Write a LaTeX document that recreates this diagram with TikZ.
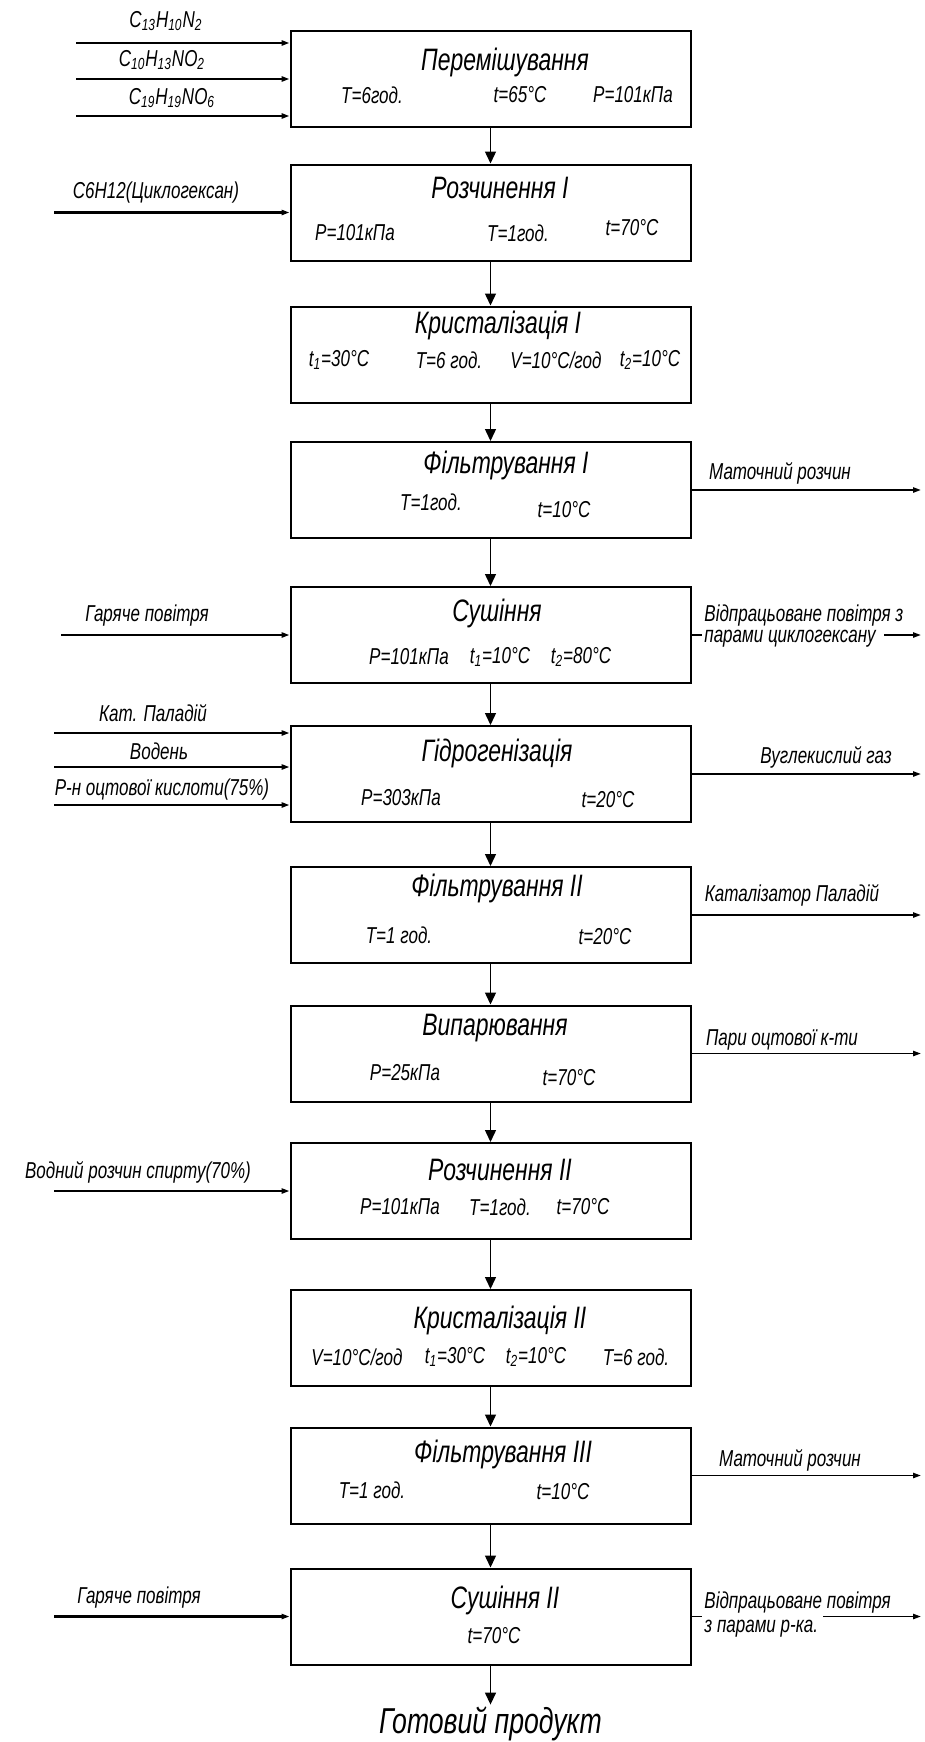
\documentclass[tikz,border=0pt]{standalone}
\usepackage{fontspec}
\setmainfont{Liberation Sans}[FakeStretch=0.74]
\usepackage{tikz}
\usetikzlibrary{arrows.meta}

\begin{document}
\begin{tikzpicture}[
  x=0.5pt, y=-0.5pt,
  pbox/.style={draw,line width=1pt,minimum width=200pt,minimum height=48pt,inner sep=0pt},
  ptitle/.style={font=\itshape\fontsize{15.5}{18}\selectfont,inner sep=1pt},
  ppar/.style={font=\itshape\fontsize{11.5}{13}\selectfont,inner sep=1pt},
  flab/.style={font=\itshape\fontsize{11.5}{13}\selectfont,inner sep=1pt},
  edg/.style={-{Triangle[length=6pt,width=5.5pt]},line width=0.7pt},
  feed/.style={-{Triangle[length=4pt,width=2.6pt]},line width=1.1pt},
  outf/.style={-{Triangle[length=4pt,width=2.6pt]},line width=0.9pt}]

  \useasboundingbox (0,0) rectangle (925,1742);

  % process chain
  \node[pbox] (mix)  at (490.5,79)     {};
  \node[pbox] (dis1) at (490.5,212.5)  {};
  \node[pbox] (cry1) at (490.5,354.5)  {};
  \node[pbox] (fil1) at (490.5,490)    {};
  \node[pbox] (dry1) at (490.5,635)    {};
  \node[pbox] (hyd)  at (490.5,774)    {};
  \node[pbox] (fil2) at (490.5,915)    {};
  \node[pbox] (eva)  at (490.5,1053.5) {};
  \node[pbox] (dis2) at (490.5,1191)   {};
  \node[pbox] (cry2) at (490.5,1338)   {};
  \node[pbox] (fil3) at (490.5,1475.5) {};
  \node[pbox] (dry2) at (490.5,1616.5) {};
  \node[font=\itshape\fontsize{18}{21}\selectfont,inner sep=1pt] (prod) at (490.5,1724) {Готовий продукт};

  \draw[edg] (mix)  -- (dis1);
  \draw[edg] (dis1) -- (cry1);
  \draw[edg] (cry1) -- (fil1);
  \draw[edg] (fil1) -- (dry1);
  \draw[edg] (dry1) -- (hyd);
  \draw[edg] (hyd)  -- (fil2);
  \draw[edg] (fil2) -- (eva);
  \draw[edg] (eva)  -- (dis2);
  \draw[edg] (dis2) -- (cry2);
  \draw[edg] (cry2) -- (fil3);
  \draw[edg] (fil3) -- (dry2);
  \draw[edg] (dry2) -- (prod);

  % titles and conditions
  \node[ptitle] (mix-t) at (505,62) {Перемішування};
  \node[ppar] (mix-a) at (372,95) {T=6год.};
  \node[ppar] (mix-b) at (520,95) {t=65°C};
  \node[ppar] (mix-c) at (633,95) {P=101кПа};

  \node[ptitle] (dis1-t) at (500,188) {Розчинення I};
  \node[ppar] (dis1-a) at (355,233) {P=101кПа};
  \node[ppar] (dis1-b) at (518,233) {T=1год.};
  \node[ppar] (dis1-c) at (632,228) {t=70°C};

  \node[ptitle] (cry1-t) at (498,325) {Кристалізація I};
  \node[ppar] (cry1-a) at (339,360) {t\textsubscript{1}=30°C};
  \node[ppar] (cry1-b) at (449,360) {T=6 год.};
  \node[ppar] (cry1-c) at (556,360) {V=10°C/год};
  \node[ppar] (cry1-d) at (650,360) {t\textsubscript{2}=10°C};

  \node[ptitle] (fil1-t) at (506,465) {Фільтрування I};
  \node[ppar] (fil1-a) at (431,502) {T=1год.};
  \node[ppar] (fil1-b) at (564,510) {t=10°C};

  \node[ptitle] (dry1-t) at (497,613) {Сушіння};
  \node[ppar] (dry1-a) at (409,657) {P=101кПа};
  \node[ppar] (dry1-b) at (500,657) {t\textsubscript{1}=10°C};
  \node[ppar] (dry1-c) at (581,657) {t\textsubscript{2}=80°C};

  \node[ptitle] (hyd-t) at (497,753) {Гідрогенізація};
  \node[ppar] (hyd-a) at (401,798) {P=303кПа};
  \node[ppar] (hyd-b) at (608,800) {t=20°C};

  \node[ptitle] (fil2-t) at (497,888) {Фільтрування II};
  \node[ppar] (fil2-a) at (399,935) {T=1 год.};
  \node[ppar] (fil2-b) at (605,937) {t=20°C};

  \node[ptitle] (eva-t) at (495,1028) {Випарювання};
  \node[ppar] (eva-a) at (405,1073) {P=25кПа};
  \node[ppar] (eva-b) at (569,1078) {t=70°C};

  \node[ptitle] (dis2-t) at (500,1170) {Розчинення II};
  \node[ppar] (dis2-a) at (400,1207) {P=101кПа};
  \node[ppar] (dis2-b) at (500,1207) {T=1год.};
  \node[ppar] (dis2-c) at (583,1207) {t=70°C};

  \node[ptitle] (cry2-t) at (500,1320) {Кристалізація II};
  \node[ppar] (cry2-a) at (357,1357) {V=10°C/год};
  \node[ppar] (cry2-b) at (455,1357) {t\textsubscript{1}=30°C};
  \node[ppar] (cry2-c) at (536,1357) {t\textsubscript{2}=10°C};
  \node[ppar] (cry2-d) at (636,1357) {T=6 год.};

  \node[ptitle] (fil3-t) at (503,1454) {Фільтрування III};
  \node[ppar] (fil3-a) at (372,1490) {T=1 год.};
  \node[ppar] (fil3-b) at (563,1492) {t=10°C};

  \node[ptitle] (dry2-t) at (505,1600) {Сушіння II};
  \node[ppar] (dry2-a) at (494,1636) {t=70°C};

  % feeds in
  \coordinate (in1) at (76,43);
  \coordinate (in2) at (76,79);
  \coordinate (in3) at (76,116);
  \coordinate (in4) at (54,212.5);
  \coordinate (in5) at (61,635);
  \coordinate (in6) at (54,733);
  \coordinate (in7) at (54,767);
  \coordinate (in8) at (54,805);
  \coordinate (in9) at (54,1191);
  \coordinate (in10) at (54,1616.5);
  \draw[feed] (in1) -- (in1 -| mix.west);
  \draw[feed] (in2) -- (in2 -| mix.west);
  \draw[feed] (in3) -- (in3 -| mix.west);
  \draw[feed] (in4) -- (dis1);
  \draw[feed] (in5) -- (dry1);
  \draw[feed] (in6) -- (in6 -| hyd.west);
  \draw[feed] (in7) -- (in7 -| hyd.west);
  \draw[feed] (in8) -- (in8 -| hyd.west);
  \draw[feed] (in9) -- (dis2);
  \draw[feed] (in10) -- (dry2);
  \node[flab] (in1-l) at (166,21) {C\textsubscript{13}H\textsubscript{10}N\textsubscript{2}};
  \node[flab] (in2-l) at (162,60) {C\textsubscript{10}H\textsubscript{13}NO\textsubscript{2}};
  \node[flab] (in3-l) at (172,98) {C\textsubscript{19}H\textsubscript{19}NO\textsubscript{6}};
  \node[flab] (in4-l) at (156,193) {C6H12(Циклогексан)};
  \node[flab] (in5-l) at (147,616) {Гаряче повітря};
  \node[flab] (in6-l) at (153,713) {Кат. Паладій};
  \node[flab] (in7-l) at (159,751) {Водень};
  \node[flab] (in8-l) at (162,790) {Р-н оцтової кислоти(75\%)};
  \node[flab] (in9-l) at (138,1172) {Водний розчин спирту(70\%)};
  \node[flab] (in10-l) at (139,1598) {Гаряче повітря};

  % streams out
  \coordinate (out1) at (921,490);
  \coordinate (out2) at (921,635);
  \coordinate (out3) at (921,774);
  \coordinate (out4) at (921,915);
  \coordinate (out5) at (921,1053.5);
  \coordinate (out6) at (921,1475.5);
  \coordinate (out7) at (921,1616.5);
  \draw[outf] (fil1) -- (out1);
  \draw[outf] (hyd)  -- (out3);
  \draw[outf] (fil2) -- (out4);
  \draw[outf] (eva)  -- (out5);
  \draw[outf] (fil3) -- (out6);
  \node[flab] (out1-l) at (780,473) {Маточний розчин};
  \node[flab] (out3-l) at (826,757) {Вуглекислий газ};
  \node[flab] (out4-l) at (792,895) {Каталізатор Паладій};
  \node[flab] (out5-l) at (782,1040) {Пари оцтової к-ти};
  \node[flab] (out6-l) at (790,1460) {Маточний розчин};

  % split streams round two-line labels
  \node[flab,anchor=west,align=left,font=\itshape\fontsize{11.5}{10.2}\selectfont]
       (out2-l) at (702,626) {Відпрацьоване повітря з\\парами циклогексану};
  \coordinate (out2-s) at (884,635);
  \draw[line width=0.9pt] (dry1) -- (dry1 -| out2-l.west);
  \draw[outf] (out2-s) -- (out2);
  \node[flab,anchor=west,align=left,font=\itshape\fontsize{11.5}{12}\selectfont]
       (out7-l) at (702,1615) {Відпрацьоване повітря\\з парами р-ка.};
  \coordinate (out7-s) at (823,1616.5);
  \draw[line width=0.9pt] (dry2) -- (dry2 -| out7-l.west);
  \draw[outf] (out7-s) -- (out7);
\end{tikzpicture}
\end{document}
